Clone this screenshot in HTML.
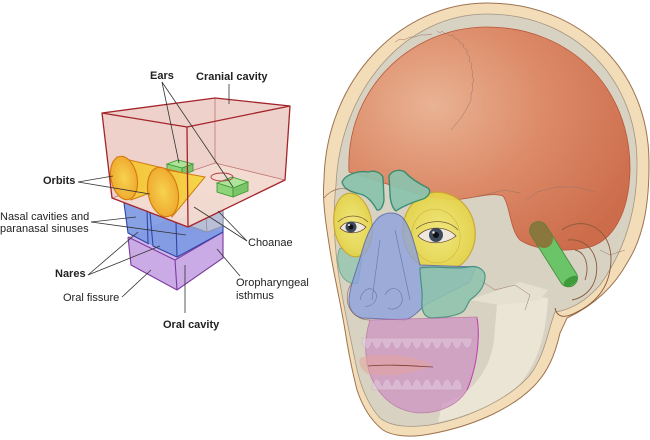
<!DOCTYPE html>
<html><head><meta charset="utf-8"><style>
html,body{margin:0;padding:0;background:#fff;}
svg{display:block;}
text{font-family:"Liberation Sans",Arial,sans-serif;font-size:11px;fill:#222;}
.b{font-weight:bold;}
</style></head><body>
<svg width="650" height="440" viewBox="0 0 650 440" xmlns="http://www.w3.org/2000/svg">
<defs>
<radialGradient id="og" cx="0.3" cy="0.35" r="0.8">
<stop offset="0" stop-color="#e9b393"/><stop offset="0.5" stop-color="#dc8a68"/><stop offset="1" stop-color="#cc6c4b"/>
</radialGradient>
<linearGradient id="cone" x1="0" y1="0" x2="1" y2="0">
<stop offset="0" stop-color="#f3c23a"/><stop offset="1" stop-color="#f5d84a"/>
</linearGradient>
<radialGradient id="base" cx="0.5" cy="0.5" r="0.6">
<stop offset="0" stop-color="#f7d250"/><stop offset="1" stop-color="#eea42a"/>
</radialGradient>
<radialGradient id="yo" cx="0.5" cy="0.5" r="0.6">
<stop offset="0" stop-color="#f2ea78"/><stop offset="1" stop-color="#e3cf3c"/>
</radialGradient>
</defs>

<!-- ============ LEFT DIAGRAM ============ -->
<polygon points="128,237 175,216 223,232 223,258 177,290 131,265" fill="#c5a2e2" opacity="0.9"/>
<polygon points="128,237 175,260 223,232" fill="#d6bdf0" opacity="0.7"/>
<g stroke="#7b3aa0" stroke-width="1.1" fill="none">
<polyline points="128,237 131,265 177,290 223,258 223,232"/>
<line x1="128" y1="237" x2="175" y2="260"/>
<line x1="175" y1="260" x2="223" y2="232"/>
<line x1="175" y1="260" x2="177" y2="290"/>
</g>
<polygon points="124,203 147,208 150,212 177,220 223,200 223,232 177,257 153,246 149,244 128,233" fill="#7d99e2" opacity="0.92"/>
<g stroke="#2f45a8" stroke-width="1.1" fill="none">
<polyline points="124,203 128,233 149,244"/>
<line x1="147" y1="209" x2="148" y2="243"/>
<polyline points="150,212 153,246 177,257 223,232 223,200"/>
<line x1="176" y1="222" x2="177" y2="257"/>
</g>
<polygon points="190,198 205,192 223,197 223,226 207,232 190,226" fill="#c9c9d2" opacity="0.75"/>
<g stroke="#8e8e9c" stroke-width="0.8" fill="none">
<polyline points="190,198 205,203 223,197"/><line x1="205" y1="203" x2="207" y2="232"/>
<polyline points="190,198 190,226 207,232 223,226 223,197"/>
</g>
<polygon points="102,113 215,98 290,106 285,180 188,227 112,198" fill="#ecc7bf" opacity="0.82"/>
<polygon points="112,198 215,163 285,180 188,227" fill="#f4ddd3" opacity="0.8"/>
<g stroke="#c27575" stroke-width="0.8" fill="none">
<line x1="215" y1="98" x2="215" y2="163"/>
<line x1="215" y1="163" x2="112" y2="198"/>
<line x1="215" y1="163" x2="285" y2="180"/>
</g>
<g stroke="#3f9a35" stroke-width="0.9">
<polygon points="167,164 178,160 193,164 182,168" fill="#aee39a"/>
<polygon points="167,164 182,168 182,175 167,171" fill="#8fd47a"/>
<polygon points="182,168 193,164 193,171 182,175" fill="#7cc468"/>
<polygon points="217,183 232,177 248,182 233,188" fill="#aee39a"/>
<polygon points="217,183 233,188 233,197 217,192" fill="#8fd47a"/>
<polygon points="233,188 248,182 248,191 233,197" fill="#7cc468"/>
</g>
<ellipse cx="222" cy="177" rx="11" ry="4" fill="none" stroke="#b83a3a" stroke-width="0.9"/>
<polygon points="117,157 196,176 131,200" fill="url(#cone)" stroke="#d27a12" stroke-width="1"/>
<ellipse cx="124" cy="178" rx="13" ry="22" transform="rotate(-12 124 178)" fill="url(#base)" stroke="#d27a12" stroke-width="1.1"/>
<polygon points="156,168 205,177 172,217" fill="url(#cone)" stroke="#d27a12" stroke-width="1"/>
<ellipse cx="163" cy="192" rx="15" ry="25" transform="rotate(-12 163 192)" fill="url(#base)" stroke="#d27a12" stroke-width="1.1"/>
<g stroke="#a3242a" stroke-width="1.3" fill="none" stroke-linejoin="round">
<polygon points="102,113 215,98 290,106 187,127"/>
<polyline points="102,113 112,198 188,227 285,180 290,106"/>
<line x1="187" y1="127" x2="188" y2="227"/>
</g>
<g stroke="#333" stroke-width="0.8" fill="none">
<line x1="162" y1="82" x2="179" y2="163"/>
<line x1="162" y1="82" x2="233" y2="187"/>
<line x1="229" y1="84" x2="229" y2="104"/>
<line x1="78" y1="182" x2="113" y2="176"/>
<line x1="78" y1="182" x2="150" y2="194"/>
<line x1="91" y1="222" x2="136" y2="217"/>
<line x1="91" y1="222" x2="186" y2="235"/>
<line x1="247" y1="241" x2="194" y2="207"/>
<line x1="247" y1="241" x2="218" y2="211"/>
<line x1="88" y1="275" x2="138" y2="232"/>
<line x1="88" y1="275" x2="160" y2="246"/>
<line x1="122" y1="297" x2="151" y2="270"/>
<line x1="185" y1="313" x2="185" y2="265"/>
<line x1="240" y1="276" x2="217" y2="249"/>
</g>
<text class="b" x="150" y="79">Ears</text>
<text class="b" x="196" y="80">Cranial cavity</text>
<text class="b" x="43" y="184">Orbits</text>
<text x="0" y="220">Nasal cavities and</text>
<text x="0" y="232">paranasal sinuses</text>
<text class="b" x="55" y="277">Nares</text>
<text x="63" y="301">Oral fissure</text>
<text class="b" x="163" y="328">Oral cavity</text>
<text x="248" y="246">Choanae</text>
<text x="236" y="286">Oropharyngeal</text>
<text x="236" y="299">isthmus</text>

<!-- ============ SKULL ============ -->
<path d="M487,3 C580,3 650,70 649,165 C649,200 645,235 627,263 C615,285 595,305 567,318 L560,333 C555,355 548,372 533,387 C515,405 480,425 430,434 C410,438 392,436 383,430 C370,420 362,405 357,390 C352,370 348,350 345,330 C340,300 333,270 330,250 C326,225 322,200 324,180 C326,80 400,3 487,3 Z" fill="#f3ddb8" stroke="#9d7350" stroke-width="1"/>
<path d="M487,14 C575,14 638,80 637,165 C637,210 625,250 600,285 C585,302 570,310 555,312 C548,330 545,355 530,375 C510,398 470,418 430,425 C408,428 390,426 380,418 C368,405 360,385 356,365 C350,335 342,300 338,270 C334,240 333,210 336,185 C340,90 405,14 487,14 Z" fill="#d8d2c3" stroke="#a39580" stroke-width="0.8"/>
<path d="M498,292 L548,298 C546,335 538,362 520,384 C500,402 470,416 438,422 L442,404 C470,396 490,372 494,340 Z" fill="#ebe5d6"/>
<path d="M470,300 L520,282 L548,290 L540,300 L500,305 Z" fill="#e6e0d0"/>
<path d="M349,172 C345,90 410,27 487,27 C570,27 631,88 630,170 C629,215 612,240 590,247 C565,253 535,250 520,240 C510,230 510,205 503,196 C490,192 475,198 455,200 C425,198 395,186 349,172 Z" fill="url(#og)" stroke="#b8573a" stroke-width="0.8"/>
<g stroke="#9a7464" stroke-width="0.5" fill="none">
<path d="M437,31 l3,2 l2,-2 l3,3 l2,-1 l3,3 l3,-1 l2,4 l3,0 l2,4 l3,1 l1,4 l3,2 l0,4 l3,3 l-1,4 l3,3 l-1,4 l2,4 l-1,4 l2,4 l-2,4 l1,5 l-2,5 l0,6 l-4,8 l-6,10 l-10,12"/>
<path d="M395,42 l5,-3 l4,1 l6,-3 l5,0 l5,-2 l6,0 l6,-1"/>
<path d="M470,198 L505,190 L520,193"/>
<path d="M527,200 l10,-8 l20,-5 l20,0 l18,5"/>
<path d="M600,250 l10,5 l15,-5"/>
<path d="M480,280 l15,10 l20,-5 l15,10 l-5,15"/>
</g>
<path d="M340,248 C348,250 358,252 362,258 L358,283 C350,285 343,280 340,272 C337,262 337,254 340,248 Z" fill="#9cc7b2" stroke="#5aa088" stroke-width="0.8" opacity="0.9"/>
<ellipse cx="353" cy="225" rx="19" ry="32" transform="rotate(-8 353 225)" fill="url(#yo)" stroke="#c9a52c" stroke-width="1.1" opacity="0.92"/>
<ellipse cx="439" cy="232" rx="36" ry="40" transform="rotate(-12 439 232)" fill="url(#yo)" stroke="#c9a52c" stroke-width="1.2" opacity="0.92"/>
<ellipse cx="436" cy="236" rx="24" ry="27" transform="rotate(-12 436 236)" fill="none" stroke="#d0b63a" stroke-width="0.6"/>
<path d="M338,222 C346,214 360,214 368,222" fill="none" stroke="#7a5a3a" stroke-width="0.7"/>
<path d="M340,228 C345,220 358,220 366,227 C360,234 347,235 340,228 Z" fill="#efe8dc" stroke="#6b4a30" stroke-width="0.8"/>
<circle cx="351" cy="227" r="5.5" fill="#3c4a5c"/><circle cx="351" cy="227" r="2.5" fill="#111"/><circle cx="349" cy="225" r="1" fill="#fff"/>
<path d="M416,229 C428,219 448,219 458,230" fill="none" stroke="#7a5a3a" stroke-width="0.7"/>
<path d="M418,236 C426,226 446,225 456,236 C446,244 428,246 418,236 Z" fill="#efe8dc" stroke="#6b4a30" stroke-width="0.8"/>
<circle cx="436" cy="235" r="7" fill="#3c4a5c"/><circle cx="436" cy="235" r="3" fill="#111"/><circle cx="433.5" cy="232.5" r="1.2" fill="#fff"/>
<path d="M342,182 C345,175 358,170 368,172 C374,170 380,172 383,177 L384,200 C383,207 380,211 377,210 C373,203 368,196 360,194 C352,192 344,190 342,182 Z" fill="#8cc3ad" stroke="#2f8a6e" stroke-width="1.4" opacity="0.92"/>
<path d="M389,176 C392,170 400,169 405,172 C410,178 418,183 428,188 C432,192 428,198 420,200 C410,203 400,208 396,211 C392,208 390,200 390,193 Z" fill="#8cc3ad" stroke="#2f8a6e" stroke-width="1.4" opacity="0.92"/>
<path d="M378,218 C385,212 395,211 402,217 C410,225 415,245 420,265 L476,267 L470,282 L425,305 C418,312 412,318 405,320 L362,318 C354,316 349,310 349,300 C350,285 356,272 360,258 C365,240 370,226 378,218 Z" fill="#8ea2dc" stroke="#5062ac" stroke-width="1" opacity="0.8"/>
<g stroke="#5a67a0" stroke-width="0.6" fill="none" opacity="0.8">
<path d="M360,300 C362,290 370,285 375,292 C380,298 372,308 365,306"/>
<path d="M385,295 C390,285 400,287 402,297 C404,305 395,312 388,308"/>
<path d="M380,240 L372,300"/><path d="M395,230 L410,300"/>
</g>
<path d="M420,268 C435,265 455,270 468,267 C478,265 486,270 485,278 C484,288 478,294 470,300 C466,306 466,312 458,314 C448,318 440,317 432,318 C424,318 421,310 422,300 C423,290 420,280 420,268 Z" fill="#8fc4ae" stroke="#3a9078" stroke-width="1.2" opacity="0.88"/>
<path d="M370,320 L477,317 C480,335 478,365 467,390 C458,405 440,413 420,413 C400,412 385,402 375,385 C366,370 362,345 370,320 Z" fill="#cf92c4" stroke="#b0609e" stroke-width="0.8" opacity="0.72"/>
<path d="M477,318 C480,335 478,365 467,390" fill="none" stroke="#c040b0" stroke-width="1"/>
<g fill="#e6d2e6" stroke="#a77a9a" stroke-width="0.4" opacity="0.45">
<path d="M362,342 q5,14 10,0 q5,14 10,0 q5,14 10,0 q5,14 10,0 q5,14 10,0 q5,14 10,0 q5,14 10,0 q5,14 10,0 q5,14 10,0 q5,14 10,0 q5,12 10,0 L472,338 L362,338 Z"/>
<path d="M372,386 q5,-14 10,0 q5,-14 10,0 q5,-14 10,0 q5,-14 10,0 q5,-14 10,0 q5,-14 10,0 q5,-14 10,0 q5,-14 10,0 q5,-14 10,0 L462,390 L372,390 Z"/>
</g>
<path d="M360,358 C380,352 410,355 432,364 C420,372 395,378 368,374 C360,370 358,362 360,358 Z" fill="#e3a49a" opacity="0.55"/>
<path d="M368,366 C390,364 412,366 433,367" fill="none" stroke="#7a3a30" stroke-width="0.8"/>
<g stroke="#8a5a3a" stroke-width="0.7" fill="none" opacity="0.8">
<path d="M324,198 C332,188 345,186 352,192"/>
<path d="M352,283 C345,292 346,306 353,313 C358,318 364,320 370,320"/>
</g>
<g transform="translate(537,228) rotate(57.7)">
<rect x="-6" y="-9" width="74" height="18" rx="9" fill="#6cc468" stroke="#3d8a35" stroke-width="0.8"/>
<rect x="-6" y="-9" width="28" height="18" rx="9" fill="#8e6a34" opacity="0.85"/>
<ellipse cx="63" cy="0" rx="4" ry="8" fill="#3f9a3a"/>
</g>
<g stroke="#8a5a3a" stroke-width="0.9" fill="none">
<path d="M562,230 C580,216 610,225 611,258 C611,285 598,302 575,313 C565,318 557,318 555,308"/>
<path d="M568,240 C588,238 600,256 596,276 C593,291 582,298 572,300"/>
<path d="M575,250 C585,252 590,265 585,280"/>
</g>
</svg>
</body></html>
